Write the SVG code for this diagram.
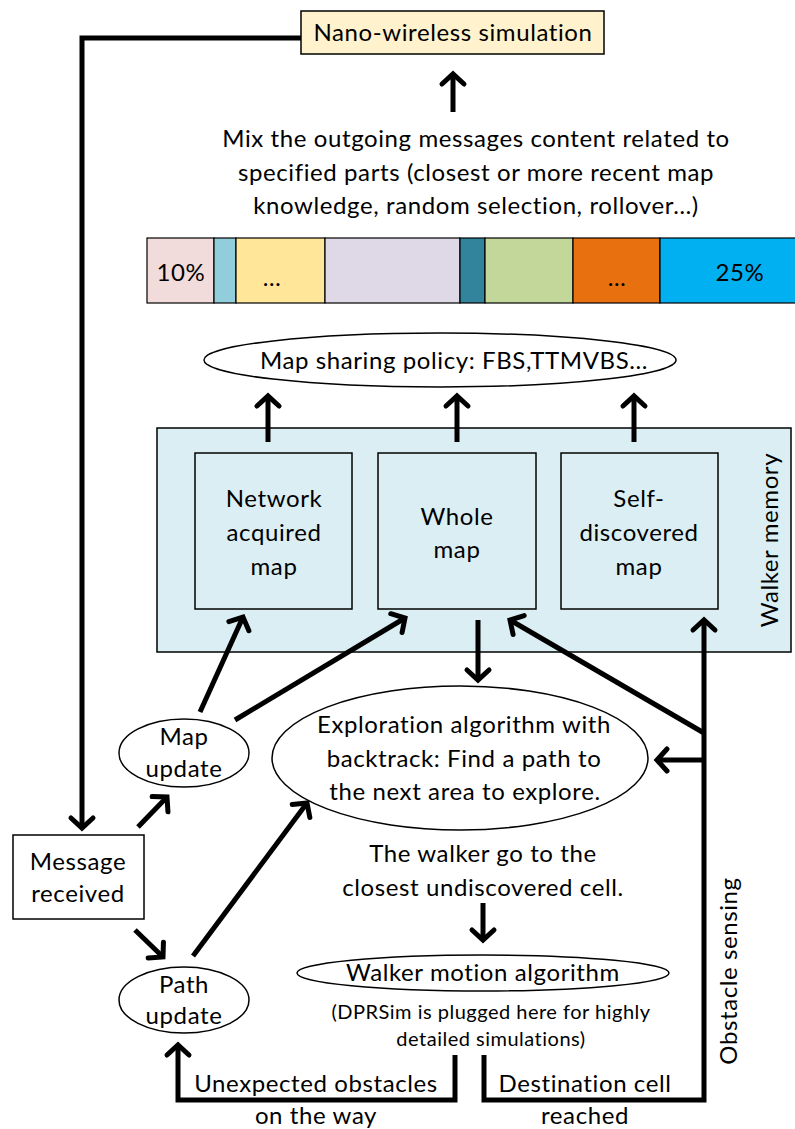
<svg xmlns="http://www.w3.org/2000/svg" width="795" height="1129" viewBox="0 0 795 1129">
<style>
text{font-family:Lato,"Open Sans","Liberation Sans",sans-serif;fill:#000;font-size:24px;letter-spacing:0.6px;text-anchor:middle}
.small{font-size:20px;letter-spacing:0.5px}
.box{stroke:#000;stroke-width:1.5}
.mem{fill:#DAEEF3;stroke:#000;stroke-width:1.5}
.ell{fill:#fff;stroke:#000;stroke-width:1.5}
.seg{stroke:#000;stroke-width:1.2}
.con{fill:none;stroke:#000;stroke-width:5;marker-end:url(#ah)}
</style>
<defs>
<marker id="ah" markerUnits="userSpaceOnUse" viewBox="-14 -14 16 28" refX="0" refY="0" markerWidth="16" markerHeight="28" orient="auto" overflow="visible">
<path d="M-10,-11 L0,0 L-10,11" fill="none" stroke="#000" stroke-width="5" stroke-linecap="round" stroke-linejoin="miter"/>
</marker>
</defs>
<rect width="795" height="1129" fill="#fff"/>

<g id="nano">
<rect x="301" y="11" width="303" height="43" fill="#FFF2CC" class="box"/>
<text x="453" y="41" font-size="25">Nano-wireless simulation</text>
</g>

<g id="mix-text">
<text x="476" y="147">Mix the outgoing messages content related to</text>
<text x="476" y="181">specified parts (closest or more recent map</text>
<text x="476" y="214">knowledge, random selection, rollover…)</text>
</g>

<g id="bar">
<rect x="147" y="238" width="67" height="65" fill="#F2DCDB" class="seg"/>
<rect x="214" y="238" width="22" height="65" fill="#92CDDC" class="seg"/>
<rect x="236" y="238" width="89" height="65" fill="#FFE699" class="seg"/>
<rect x="325" y="238" width="135" height="65" fill="#DFD9E7" class="seg"/>
<rect x="460" y="238" width="25" height="65" fill="#31849B" class="seg"/>
<rect x="485" y="238" width="88" height="65" fill="#C4D79B" class="seg"/>
<rect x="573" y="238" width="87" height="65" fill="#E8700E" class="seg"/>
<rect x="660" y="238" width="137" height="65" fill="#00B0F0" class="seg"/>
<text x="181" y="281">10%</text>
<text x="272" y="286">…</text>
<text x="617" y="286">…</text>
<text x="740" y="281">25%</text>
</g>

<g id="sharing">
<ellipse cx="440" cy="360" rx="236" ry="27" class="ell"/>
<text x="454" y="369">Map sharing policy: FBS,TTMVBS...</text>
</g>

<g id="walker-memory">
<rect x="157" y="428" width="634" height="224" class="mem"/>
<text transform="translate(778,540) rotate(-90)">Walker memory</text>
</g>

<g id="network-map">
<rect x="195" y="453" width="157" height="156" class="mem"/>
<text x="274" y="507">Network</text>
<text x="274" y="541">acquired</text>
<text x="274" y="575">map</text>
</g>

<g id="whole-map">
<rect x="378" y="453" width="158" height="156" class="mem"/>
<text x="457" y="525">Whole</text>
<text x="457" y="558">map</text>
</g>

<g id="self-map">
<rect x="561" y="453" width="157" height="156" class="mem"/>
<text x="639" y="507">Self-</text>
<text x="639" y="541">discovered</text>
<text x="639" y="575">map</text>
</g>

<g id="map-update">
<ellipse cx="184" cy="753" rx="65" ry="34" class="ell"/>
<text x="184" y="745">Map</text>
<text x="184" y="777">update</text>
</g>

<g id="exploration">
<ellipse cx="460" cy="758" rx="188" ry="72" class="ell"/>
<text x="464" y="733">Exploration algorithm with</text>
<text x="464" y="767">backtrack: Find a path to</text>
<text x="465" y="800">the next area to explore.</text>
</g>

<g id="walker-go-text">
<text x="483" y="862">The walker go to the</text>
<text x="483" y="896">closest undiscovered cell.</text>
</g>

<g id="message">
<rect x="13" y="835" width="131" height="84" fill="#fff" class="box"/>
<text x="78" y="870">Message</text>
<text x="78" y="902">received</text>
</g>

<g id="path-update">
<ellipse cx="184" cy="1000" rx="65" ry="33" class="ell"/>
<text x="184" y="993">Path</text>
<text x="184" y="1024">update</text>
</g>

<g id="motion">
<ellipse cx="483" cy="973" rx="186" ry="18" class="ell"/>
<text x="483" y="981">Walker motion algorithm</text>
<text x="491" y="1019" class="small">(DPRSim is plugged here for highly</text>
<text x="491" y="1046" class="small">detailed simulations)</text>
</g>

<g id="labels">
<text x="316" y="1092">Unexpected obstacles</text>
<text x="316" y="1124">on the way</text>
<text x="585" y="1092">Destination cell</text>
<text x="585" y="1124">reached</text>
<text transform="translate(737,971) rotate(-90)">Obstacle sensing</text>
</g>

<g id="connectors">
<path class="con" d="M301,38 H82 V828"/>
<path class="con" d="M453,112 V74"/>
<path class="con" d="M268,442 V396"/>
<path class="con" d="M457,442 V396"/>
<path class="con" d="M634,442 V396"/>
<path class="con" d="M200,712 L243,617"/>
<path class="con" d="M235,720 L405,618"/>
<path class="con" d="M478,620 V680"/>
<path class="con" d="M138,827 L167,797"/>
<path class="con" d="M135,930 L163,957"/>
<path class="con" d="M193,956 L307,803"/>
<path class="con" d="M483,903 V940"/>
<path class="con" d="M455,1055 V1100 H178 V1045"/>
<path class="con" d="M484,1055 V1100 H704 V620"/>
<path class="con" d="M704,733 L510,620"/>
<path class="con" d="M704,760 H657"/>
</g>
</svg>
